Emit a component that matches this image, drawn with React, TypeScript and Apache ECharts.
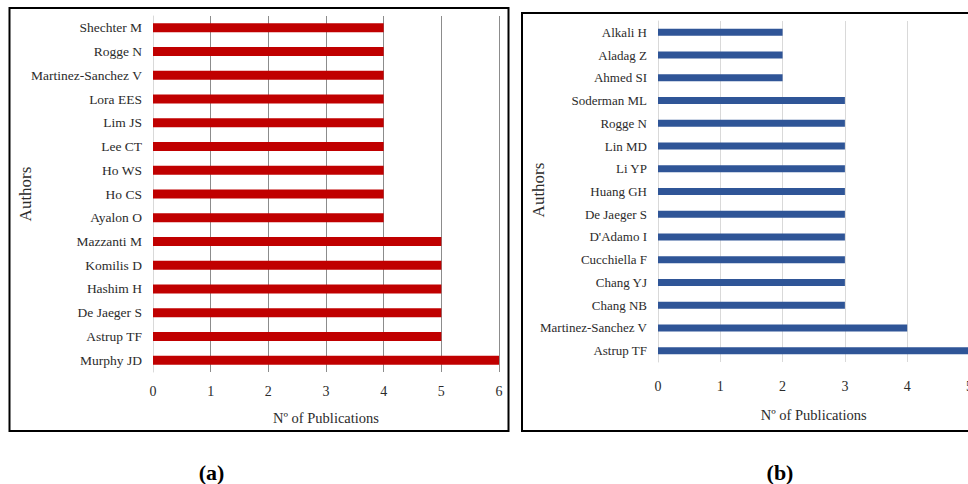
import React, { useEffect, useRef } from "react";
import * as echarts from "echarts";

const authorsA = [
  "Shechter M", "Rogge N", "Martinez-Sanchez V", "Lora EES", "Lim JS", "Lee CT", "Ho WS", "Ho CS",
  "Ayalon O", "Mazzanti M", "Komilis D", "Hashim H", "De Jaeger S", "Astrup TF", "Murphy JD",
];
const pubsA = [4, 4, 4, 4, 4, 4, 4, 4, 4, 5, 5, 5, 5, 5, 6];

const authorsB = [
  "Alkali H", "Aladag Z", "Ahmed SI", "Soderman ML", "Rogge N", "Lin MD", "Li YP", "Huang GH",
  "De Jaeger S", "D'Adamo I", "Cucchiella F", "Chang YJ", "Chang NB", "Martinez-Sanchez V", "Astrup TF",
];
const pubsB = [2, 2, 2, 3, 3, 3, 3, 3, 3, 3, 3, 3, 3, 4, 5];

const xTitle = "Nº of Publications";
const yTitle = "Authors";
const captions = ["(a)", "(b)"];

const FONT = "Liberation Serif, DejaVu Serif, serif";
const TXT = "#2b2b2b";

export default function App() {
  const ref = useRef<HTMLDivElement>(null);
  useEffect(() => {
    if (!ref.current) return;
    const chart = echarts.init(ref.current, null, { renderer: "svg" });
    chart.setOption({
      animation: false,
      backgroundColor: "#ffffff",
      textStyle: { fontFamily: FONT, color: TXT },
      grid: [
        { left: 153, top: 16, width: 346, height: 356 },
        { left: 658, top: 21, width: 311.5, height: 341 },
      ],
      xAxis: [
        {
          gridIndex: 0, type: "value", min: 0, max: 6, interval: 1,
          name: xTitle, nameLocation: "middle", nameGap: 38,
          nameTextStyle: { fontFamily: FONT, fontSize: 14.5, color: TXT },
          axisLine: { show: false }, axisTick: { show: false },
          axisLabel: { margin: 12, fontFamily: FONT, fontSize: 14, color: TXT },
          splitLine: { show: true, showMinLine: false, lineStyle: { color: "#8c8c8c", width: 1 } },
        },
        {
          gridIndex: 1, type: "value", min: 0, max: 5, interval: 1,
          name: xTitle, nameLocation: "middle", nameGap: 45,
          nameTextStyle: { fontFamily: FONT, fontSize: 14.5, color: TXT },
          axisLine: { show: false }, axisTick: { show: false },
          axisLabel: { margin: 17, fontFamily: FONT, fontSize: 14, color: TXT },
          splitLine: { show: true, showMinLine: false, lineStyle: { color: "#d9d9d9", width: 1 } },
        },
      ],
      yAxis: [
        {
          gridIndex: 0, type: "category", data: authorsA, inverse: true,
          axisLine: { show: true, lineStyle: { color: "#d9d9d9", width: 1 } },
          axisTick: { show: false },
          axisLabel: { margin: 11, fontFamily: FONT, fontSize: 13.5, color: TXT },
        },
        {
          gridIndex: 1, type: "category", data: authorsB, inverse: true,
          axisLine: { show: true, lineStyle: { color: "#d9d9d9", width: 1 } },
          axisTick: { show: false },
          axisLabel: { margin: 11, fontFamily: FONT, fontSize: 13, color: TXT },
        },
      ],
      series: [
        {
          type: "bar", xAxisIndex: 0, yAxisIndex: 0, data: pubsA, barWidth: 9,
          itemStyle: { color: "#c00000" },
        },
        {
          type: "bar", xAxisIndex: 1, yAxisIndex: 1, data: pubsB, barWidth: 7,
          itemStyle: { color: "#2f5597" },
        },
      ],
      graphic: [
        {
          type: "rect", shape: { x: 9.5, y: 8, width: 499, height: 423 }, silent: true,
          style: { fill: "none", stroke: "#000", lineWidth: 2 },
        },
        {
          type: "rect", shape: { x: 522, y: 13, width: 520, height: 418 }, silent: true,
          style: { fill: "none", stroke: "#000", lineWidth: 2 },
        },
        {
          type: "text", x: 25, y: 194, rotation: Math.PI / 2,
          style: { text: yTitle, fontFamily: FONT, fontSize: 17, fill: TXT, align: "center", verticalAlign: "middle" },
        },
        {
          type: "text", x: 538, y: 190, rotation: Math.PI / 2,
          style: { text: yTitle, fontFamily: FONT, fontSize: 17, fill: TXT, align: "center", verticalAlign: "middle" },
        },
        {
          type: "text", x: 211.5, y: 472,
          style: { text: captions[0], fontFamily: FONT, fontSize: 22, fontWeight: "bold", fill: "#000", align: "center", verticalAlign: "middle" },
        },
        {
          type: "text", x: 780, y: 472,
          style: { text: captions[1], fontFamily: FONT, fontSize: 22, fontWeight: "bold", fill: "#000", align: "center", verticalAlign: "middle" },
        },
      ],
    });
    return () => chart.dispose();
  }, []);
  return (
    <div style={{ position: "fixed", left: 0, top: 0, width: 968, height: 484, overflow: "hidden", background: "#fff" }}>
      <div ref={ref} style={{ width: 1000, height: 484 }} />
    </div>
  );
}
